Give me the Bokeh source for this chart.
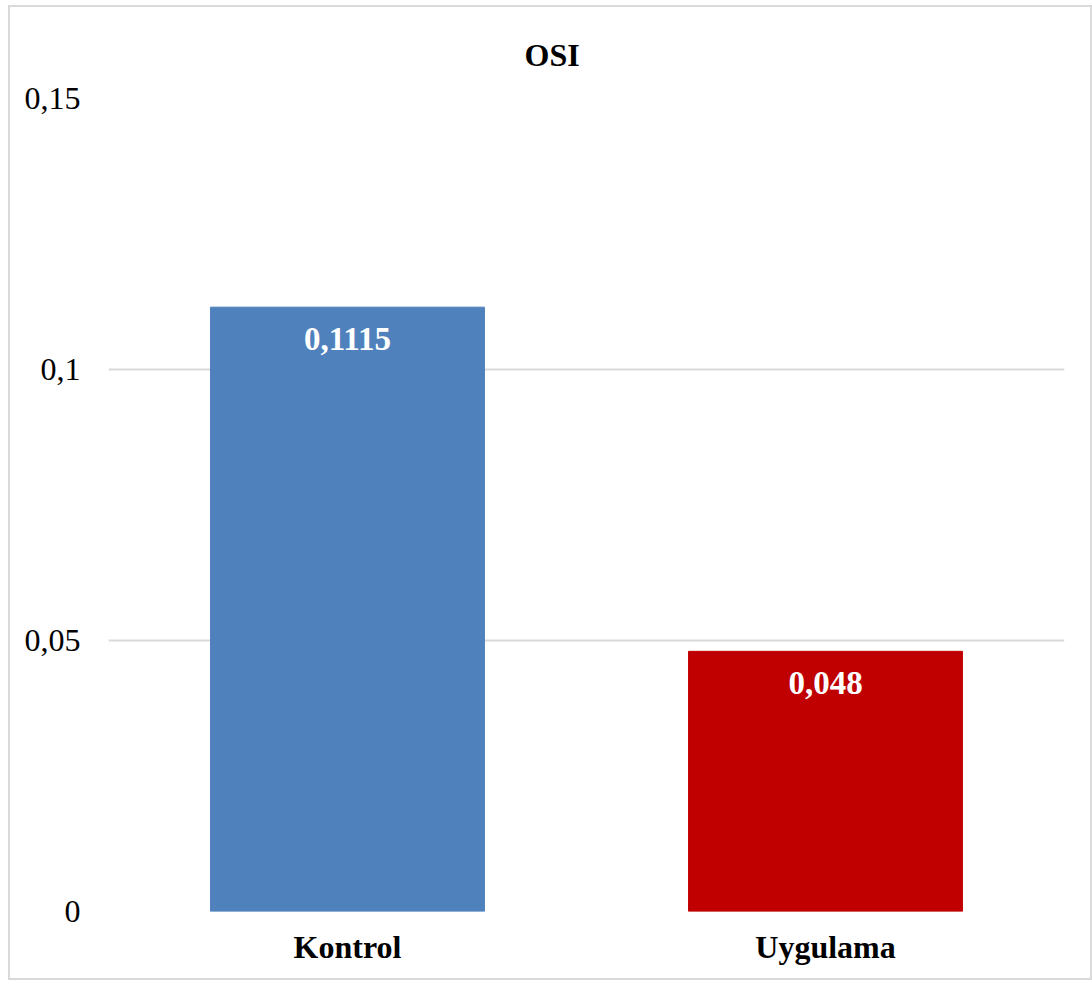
from bokeh.plotting import figure
from bokeh.models import ColumnDataSource, LabelSet, FixedTicker, CustomJSTickFormatter
from bokeh.embed import file_html
from bokeh.resources import INLINE

# Chart data
categories = ["Kontrol", "Uygulama"]
osi_values = [0.1115, 0.048]
value_labels = ["0,1115", "0,048"]
bar_colors = ["#4F81BD", "#C00000"]
y_ticks = [0, 0.05, 0.1, 0.15]

SERIF = "Liberation Serif"

source = ColumnDataSource(dict(
    cat=categories, val=osi_values, lbl=value_labels, color=bar_colors,
))

p = figure(
    x_range=categories, y_range=(0, 0.15),
    width=1084, height=975,
    output_backend="svg", toolbar_location=None,
    min_border_left=98, min_border_right=30,
    min_border_top=91, min_border_bottom=71,
    styles={"margin-left": "8px", "margin-top": "5px",
            "border": "2px solid #d9d9d9"},
)
p.outline_line_color = None
p.background_fill_color = "white"
p.border_fill_color = "white"

# chart title, placed over the centre of the whole chart
p.title.text = "OSI"
p.title.align = "left"
p.title.offset = 416
p.title.standoff = 52
p.title.text_font = SERIF
p.title.text_font_style = "bold"
p.title.text_font_size = "32px"
p.title.text_color = "black"

p.vbar(x="cat", top="val", width=0.573, color="color", source=source)

# value labels inside the top of each bar
labels = LabelSet(x="cat", y="val", text="lbl", source=source,
                  y_offset=-32, text_align="center", text_baseline="middle",
                  text_color="white", text_font=SERIF,
                  text_font_style="bold", text_font_size="33px")
p.add_layout(labels)

# y axis
p.yaxis.ticker = FixedTicker(ticks=y_ticks)
p.yaxis.formatter = CustomJSTickFormatter(
    code="return tick == 0 ? '0' : String(Number(tick.toFixed(4))).replace('.', ',');")
p.yaxis.axis_line_color = None
p.yaxis.major_tick_line_color = None
p.yaxis.minor_tick_line_color = None
p.yaxis.major_label_standoff = 22
p.yaxis.major_label_text_font = SERIF
p.yaxis.major_label_text_font_size = "32px"
p.yaxis.major_label_text_color = "black"

# x axis
p.xaxis.axis_line_color = None
p.xaxis.major_tick_line_color = None
p.xaxis.minor_tick_line_color = None
p.xaxis.major_label_standoff = 11
p.xaxis.major_label_text_font = SERIF
p.xaxis.major_label_text_font_style = "bold"
p.xaxis.major_label_text_font_size = "32px"
p.xaxis.major_label_text_color = "black"

# grid
p.xgrid.grid_line_color = None
p.ygrid.grid_line_color = "#d9d9d9"
p.ygrid.grid_line_width = 2

open("out.html", "w").write(file_html(p, INLINE))
